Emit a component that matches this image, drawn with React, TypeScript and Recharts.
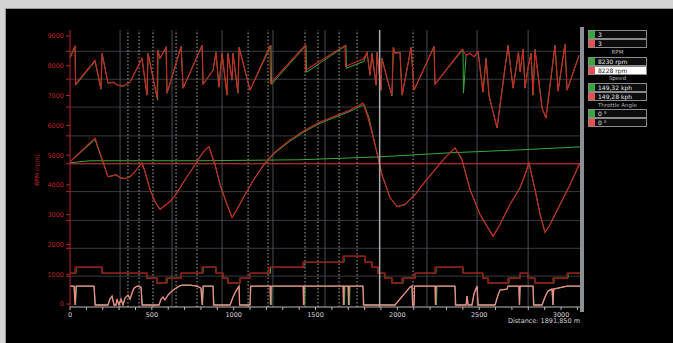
import { LineChart, Line, XAxis, YAxis, ReferenceLine } from "recharts";

// distance (m), value (rpm scale) pairs
const rpmGreen: [number, number][] = [
  [0, 8250], [31, 8650], [34, 7350], [153, 8150], [189, 7214], [196, 8417], [232, 7415], [263, 7448],
  [293, 7348], [324, 7315], [367, 7448], [440, 8250], [470, 7014], [477, 8417], [535, 6850], [538, 8517],
  [550, 8250], [587, 8617], [593, 7081], [679, 8650], [691, 7248], [807, 8684], [813, 7381], [874, 7849],
  [892, 8450], [910, 7281], [929, 8417], [959, 7014], [965, 8417], [990, 7515], [996, 8417], [1026, 7081],
  [1033, 8617], [1100, 7181], [1228, 8684], [1231, 7381], [1442, 8684], [1445, 7782], [1686, 8684],
  [1689, 7916], [1796, 8150], [1815, 8450], [1833, 7682], [1845, 8417], [1870, 7348], [1876, 8450],
  [1900, 7181], [1906, 8250], [1937, 7582], [1967, 6980], [1976, 8617], [1986, 8417], [2016, 8450],
  [2029, 7014], [2084, 8617], [2102, 7181], [2224, 8650], [2230, 7381], [2401, 8550], [2404, 7080],
  [2420, 8350], [2444, 8420], [2468, 8300], [2493, 8480], [2523, 7114], [2542, 8250], [2560, 7000],
  [2609, 5912], [2676, 8684], [2707, 7248], [2740, 8450], [2750, 7800], [2768, 8550], [2780, 7248],
  [2798, 7916], [2817, 8417], [2829, 7014], [2841, 8550], [2884, 6580], [2908, 6246], [2963, 8684],
  [2982, 7148], [3024, 8717], [3037, 7181], [3110, 8350],
];
const rpmRed: [number, number][] = [
  [0, 8283], [31, 8684], [34, 7381], [153, 8183], [189, 7214], [196, 8417], [232, 7415], [263, 7448],
  [293, 7348], [324, 7315], [367, 7448], [440, 8250], [470, 7014], [477, 8417], [532, 6914], [535, 8517],
  [550, 8250], [587, 8617], [593, 7081], [679, 8650], [691, 7248], [807, 8684], [813, 7381], [874, 7849],
  [892, 8450], [910, 7281], [929, 8417], [959, 7014], [965, 8417], [990, 7515], [996, 8417], [1026, 7081],
  [1033, 8617], [1100, 7181], [1222, 8684], [1225, 7415], [1436, 8684], [1439, 7849], [1680, 8684],
  [1683, 7983], [1790, 8216], [1815, 8450], [1833, 7682], [1845, 8417], [1870, 7348], [1876, 8450],
  [1900, 7181], [1906, 8250], [1937, 7582], [1967, 7014], [1974, 8617], [1986, 8417], [2016, 8450],
  [2029, 7014], [2084, 8617], [2102, 7181], [2224, 8650], [2230, 7381], [2395, 8550], [2420, 8350],
  [2444, 8420], [2468, 8300], [2493, 8480], [2523, 7114], [2542, 8250], [2560, 7000], [2609, 5912],
  [2676, 8684], [2707, 7248], [2740, 8450], [2750, 7800], [2768, 8550], [2780, 7248], [2798, 7916],
  [2817, 8417], [2829, 7014], [2841, 8550], [2884, 6580], [2908, 6246], [2963, 8684], [2982, 7148],
  [3024, 8717], [3037, 7181], [3110, 8350],
];

const speedGreen: [number, number][] = [
  [0, 4776], [153, 5520], [232, 4275], [263, 4309], [281, 4342], [306, 4242], [336, 4208], [367, 4275],
  [397, 4442], [440, 4743], [458, 4442], [489, 3841], [519, 3440], [550, 3173], [580, 3307], [611, 3440],
  [642, 3641], [672, 3908], [715, 4275], [764, 4676], [794, 4943], [825, 5177], [849, 5277], [886, 4676],
  [917, 4008], [959, 3340], [990, 2906], [1020, 3173], [1069, 3674], [1130, 4242], [1191, 4710],
  [1253, 5077], [1344, 5470], [1436, 5800], [1528, 6070], [1619, 6270], [1711, 6470], [1796, 6700],
  [1827, 6246], [1864, 5344], [1906, 4342], [1955, 3574], [1998, 3273], [2047, 3340], [2108, 3674],
  [2169, 4108], [2230, 4509], [2291, 4910], [2352, 5244], [2395, 4843], [2444, 3841], [2505, 3006],
  [2585, 2271], [2627, 2672], [2688, 3340], [2750, 3908], [2780, 4342], [2804, 4743], [2841, 3841],
  [2872, 3006], [2902, 2405], [2933, 2672], [2994, 3340], [3055, 4008], [3116, 4743],
];
const speedRed: [number, number][] = [
  [0, 4776], [153, 5578], [232, 4275], [263, 4309], [281, 4342], [306, 4242], [336, 4208], [367, 4275],
  [397, 4442], [440, 4743], [458, 4442], [489, 3841], [519, 3440], [550, 3173], [580, 3307], [611, 3440],
  [642, 3641], [672, 3908], [715, 4275], [764, 4676], [794, 4943], [825, 5177], [849, 5277], [886, 4676],
  [917, 4008], [959, 3340], [990, 2906], [1020, 3173], [1069, 3674], [1130, 4242], [1191, 4743],
  [1253, 5110], [1344, 5511], [1436, 5845], [1528, 6112], [1619, 6313], [1711, 6513], [1790, 6747],
  [1821, 6246], [1864, 5344], [1906, 4342], [1955, 3574], [1998, 3273], [2047, 3340], [2108, 3674],
  [2169, 4108], [2230, 4509], [2291, 4910], [2352, 5244], [2395, 4843], [2444, 3841], [2505, 3006],
  [2585, 2271], [2627, 2672], [2688, 3340], [2750, 3908], [2780, 4342], [2804, 4743], [2841, 3841],
  [2872, 3006], [2902, 2405], [2933, 2672], [2994, 3340], [3055, 4008], [3116, 4743],
];

const deltaGreen: [number, number][] = [
  [0, 4743], [122, 4810], [794, 4810], [1405, 4843], [1894, 4943], [2322, 5077], [2750, 5177], [3122, 5277],
];
const deltaRed: [number, number][] = [[0, 4709], [3122, 4709]];

const gearGreen: [number, number][] = [
  [0, 1035], [37, 1236], [196, 1035], [470, 868], [532, 701], [593, 868], [679, 1035], [813, 1236],
  [892, 1035], [935, 868], [965, 701], [1039, 868], [1100, 1035], [1225, 1236], [1430, 1403],
  [1674, 1603], [1803, 1403], [1845, 1236], [1882, 1035], [1924, 868], [1967, 701], [2035, 868],
  [2108, 1035], [2236, 1236], [2401, 1035], [2523, 868], [2554, 701], [2682, 868], [2750, 1035],
  [2798, 868], [2841, 701], [2957, 868], [3043, 1035], [3122, 1035],
];
const gearRed: [number, number][] = [
  [0, 1035], [31, 1236], [196, 1035], [470, 868], [532, 701], [587, 868], [679, 1035], [807, 1236],
  [892, 1035], [935, 868], [965, 701], [1039, 868], [1100, 1035], [1216, 1236], [1424, 1403],
  [1668, 1603], [1803, 1403], [1845, 1236], [1882, 1035], [1924, 868], [1967, 701], [2029, 868],
  [2108, 1035], [2230, 1236], [2401, 1035], [2523, 868], [2554, 701], [2676, 868], [2750, 1035],
  [2798, 868], [2841, 701], [2951, 868], [3037, 1035], [3122, 1035],
];

const throttleGreen: [number, number][] = [
  [0, 601], [27, 601], [34, -33], [40, 601], [147, 601], [156, -33], [232, -33], [244, 167], [257, 267],
  [269, -33], [281, -33], [287, 167], [299, -33], [312, 167], [324, -33], [336, 200], [354, 301], [367, 167],
  [379, 367], [391, 534], [409, 601], [434, 568], [443, -33], [544, -33], [556, 167], [568, 234], [580, 134],
  [599, 301], [623, 434], [648, 534], [666, 601], [684, 635], [733, 635], [776, 601], [800, 534], [810, -33],
  [816, 601], [874, 601], [880, -33], [978, -33], [996, 234], [1014, 434], [1033, 601], [1036, -33],
  [1100, -33], [1106, 601], [1228, 601], [1231, -33], [1234, 601], [1430, 601], [1433, -33], [1436, 601],
  [1674, 601], [1677, -33], [1680, 601], [1705, 601], [1708, -33], [1711, 601], [1790, 601], [1796, -33],
  [1986, -33], [2016, 167], [2047, 367], [2077, 568], [2090, 601], [2093, -33], [2102, -33], [2105, 601],
  [2236, 601], [2239, -33], [2242, 601], [2352, 601], [2358, -33], [2420, -33], [2426, 267], [2432, -33],
  [2456, -33], [2468, 334], [2487, 601], [2493, -33], [2597, -33], [2615, 301], [2627, 468], [2670, 501],
  [2676, 601], [2743, 601], [2746, -33], [2750, 601], [2829, 601], [2835, -33], [2884, -33], [2902, 234],
  [2920, 434], [2945, 501], [2951, -33], [2957, 501], [3037, 601], [3122, 601],
];
const throttleRed: [number, number][] = [
  [0, 601], [24, 601], [31, -33], [37, 601], [147, 601], [153, -33], [232, -33], [244, 167], [257, 267],
  [269, -33], [281, -33], [287, 167], [299, -33], [312, 167], [324, -33], [336, 200], [354, 301], [367, 167],
  [379, 367], [391, 534], [409, 601], [434, 568], [440, -33], [544, -33], [556, 167], [568, 234], [580, 134],
  [599, 301], [623, 434], [648, 534], [666, 601], [684, 635], [733, 635], [776, 601], [800, 534], [807, -33],
  [813, 601], [874, 601], [877, -33], [978, -33], [996, 234], [1014, 434], [1033, 601], [1036, -33],
  [1100, -33], [1103, 601], [1222, 601], [1225, -33], [1228, 601], [1424, 601], [1427, -33], [1430, 601],
  [1668, 601], [1671, -33], [1674, 601], [1699, 601], [1702, -33], [1705, 601], [1790, 601], [1793, -33],
  [1986, -33], [2016, 167], [2047, 367], [2077, 568], [2090, 601], [2093, -33], [2102, -33], [2105, 601],
  [2230, 601], [2233, -33], [2236, 601], [2352, 601], [2355, -33], [2420, -33], [2426, 267], [2432, -33],
  [2456, -33], [2468, 334], [2487, 601], [2493, -33], [2597, -33], [2615, 301], [2627, 468], [2670, 501],
  [2676, 601], [2743, 601], [2746, -33], [2750, 601], [2829, 601], [2832, -33], [2884, -33], [2902, 234],
  [2920, 434], [2945, 501], [2951, -33], [2954, 501], [3037, 601], [3122, 601],
];

const xLabelTicks = [0, 500, 1000, 1500, 2000, 2500, 3000];
const xMinorTicks = Array.from({ length: 32 }, (_, i) => i * 100);
const yLabelTicks = [0, 1000, 2000, 3000, 4000, 5000, 6000, 7000, 8000, 9000];
const gridRows = [935, 1870, 2806, 3774, 4709, 5645, 6613, 7548, 8484];
const gridCols = [306, 623, 929, 1240, 1558, 2181, 2487, 2799];
const markerCols = [354, 422, 507, 648, 776, 1088, 1210, 1436, 1515, 1644, 1754, 2096];
const cursorAt = 1891.85;

const toRows = (pts: [number, number][]) => pts.map(([d, v]) => ({ d, v }));

const RED = "#d22222";
const GREEN = "#38a83c";
const AXIS_RED = "#b8222a";

const yTicks = [...new Set([...yLabelTicks, ...gridRows])].sort((a, b) => a - b);

const YTick = (props: any) => {
  const { y, payload } = props;
  const major = yLabelTicks.includes(payload.value);
  return (
    <g>
      <line x1={66} x2={70} y1={y} y2={y} stroke={AXIS_RED} strokeWidth={1} />
      {major && (
        <text x={64} y={y} dy={2.5} textAnchor="end" fontSize={6.5} fill={AXIS_RED}>
          {payload.value}
        </text>
      )}
    </g>
  );
};

const XTick = (props: any) => {
  const { x, payload } = props;
  const major = xLabelTicks.includes(payload.value);
  return (
    <g>
      <line x1={x} x2={x} y1={307} y2={310} stroke="#b8b8b8" strokeWidth={1} />
      {major && (
        <text x={x} y={316.5} textAnchor="middle" fontSize={6.5} fill="#d8d8d8">
          {payload.value}
        </text>
      )}
    </g>
  );
};

const legendRows = [
  { top: 30, color: GREEN, text: "3" },
  { top: 39, color: "#e85050", text: "3" },
  { top: 57, color: GREEN, text: "8230 rpm" },
  { top: 66, color: "#e85050", text: "8228 rpm", selected: true },
  { top: 83, color: GREEN, text: "149,32 kph" },
  { top: 92, color: "#e85050", text: "149,28 kph" },
  { top: 109, color: GREEN, text: "0 °" },
  { top: 118, color: "#e85050", text: "0 °" },
];
const legendHeads = [
  { top: 49, text: "RPM" },
  { top: 75, text: "Speed" },
  { top: 102, text: "Throttle Angle" },
];

export default function App() {
  const series = [
    { key: "gearG", data: gearGreen, color: GREEN, type: "stepAfter", w: 1 },
    { key: "gearR", data: gearRed, color: "#981616", type: "stepAfter", w: 1.5 },
    { key: "thrG", data: throttleGreen, color: GREEN, type: "linear", w: 1 },
    { key: "thrR", data: throttleRed, color: "#ee8c8c", type: "linear", w: 1.3 },
    { key: "dG", data: deltaGreen, color: GREEN, type: "linear", w: 1 },
    { key: "dR", data: deltaRed, color: RED, type: "linear", w: 1 },
    { key: "spG", data: speedGreen, color: GREEN, type: "linear", w: 1 },
    { key: "spR", data: speedRed, color: RED, type: "linear", w: 1.1 },
    { key: "rpmG", data: rpmGreen, color: GREEN, type: "linear", w: 1 },
    { key: "rpmR", data: rpmRed, color: RED, type: "linear", w: 1.1 },
  ];

  return (
    <div
      style={{
        position: "fixed",
        left: 0,
        top: 0,
        width: 673,
        height: 343,
        background: "#d4d4d4",
        overflow: "hidden",
        fontFamily: '"DejaVu Sans", sans-serif',
      }}
    >
      <div style={{ position: "absolute", left: 5, top: 8, right: 0, bottom: 0, background: "#000", borderTop: "1px solid #999", borderLeft: "1px solid #999" }} />
      <div style={{ position: "absolute", left: 0, top: 0 }}>
        <LineChart width={673} height={343} margin={{ top: 30, right: 92, bottom: 16, left: 0 }}>
          <XAxis
            type="number"
            dataKey="d"
            domain={[0, 3122]}
            allowDataOverflow
            ticks={xMinorTicks}
            interval={0}
            tick={<XTick />}
            tickLine={false}
            axisLine={{ stroke: "#b8b8b8" }}
            height={20}
          />
          <YAxis
            type="number"
            dataKey="v"
            domain={[-101, 9201]}
            allowDataOverflow
            ticks={yTicks}
            interval={0}
            tick={<YTick />}
            tickLine={false}
            axisLine={{ stroke: AXIS_RED }}
            width={70}
          />
          {gridRows.map((r) => (
            <ReferenceLine key={"r" + r} y={r} stroke="#353b41" strokeWidth={1} />
          ))}
          {gridCols.map((c) => (
            <ReferenceLine key={"c" + c} x={c} stroke="#474d53" strokeWidth={1} />
          ))}
          {markerCols.map((c) => (
            <ReferenceLine key={"m" + c} x={c} stroke="#a8a8a8" strokeDasharray="1.5 2" strokeWidth={1} />
          ))}
          {series.map((s) => (
            <Line
              key={s.key}
              data={toRows(s.data)}
              dataKey="v"
              type={s.type as any}
              stroke={s.color}
              strokeWidth={s.w}
              dot={false}
              activeDot={false}
              isAnimationActive={false}
            />
          ))}
          <ReferenceLine x={cursorAt} stroke="#a9adb2" strokeWidth={1.5} />
        </LineChart>
      </div>
      <div
        style={{
          position: "absolute",
          left: 36,
          top: 170,
          transform: "translate(-50%, -50%) rotate(-90deg)",
          color: AXIS_RED,
          fontSize: 6,
          whiteSpace: "nowrap",
        }}
      >
        RPM (rpm)
      </div>
      <div style={{ position: "absolute", left: 580, top: 27, width: 4, height: 285, background: "#8c9094" }} />
      {legendRows.map((r, i) => (
        <div
          key={i}
          style={{
            position: "absolute",
            left: 588,
            top: r.top,
            width: 57,
            height: 7,
            border: "1px solid #8a8a8a",
            background: r.selected ? "#fff" : "#0c0c0c",
          }}
        >
          <div style={{ position: "absolute", left: 0, top: 0, width: 6, height: 7, background: r.color }} />
          <div
            style={{
              position: "absolute",
              left: 9,
              top: -1,
              fontSize: 6,
              lineHeight: "9px",
              color: r.selected ? "#222" : "#e8e8e8",
              whiteSpace: "nowrap",
            }}
          >
            {r.text}
          </div>
        </div>
      ))}
      {legendHeads.map((h) => (
        <div
          key={h.text}
          style={{ position: "absolute", left: 588, width: 59, top: h.top, textAlign: "center", fontSize: 5.5, color: "#b8b8b8" }}
        >
          {h.text}
        </div>
      ))}
      <div style={{ position: "absolute", left: 500, width: 80, top: 317, textAlign: "right", fontSize: 6.5, color: "#d8d8d8" }}>
        Distance: 1891,850 m
      </div>
    </div>
  );
}
